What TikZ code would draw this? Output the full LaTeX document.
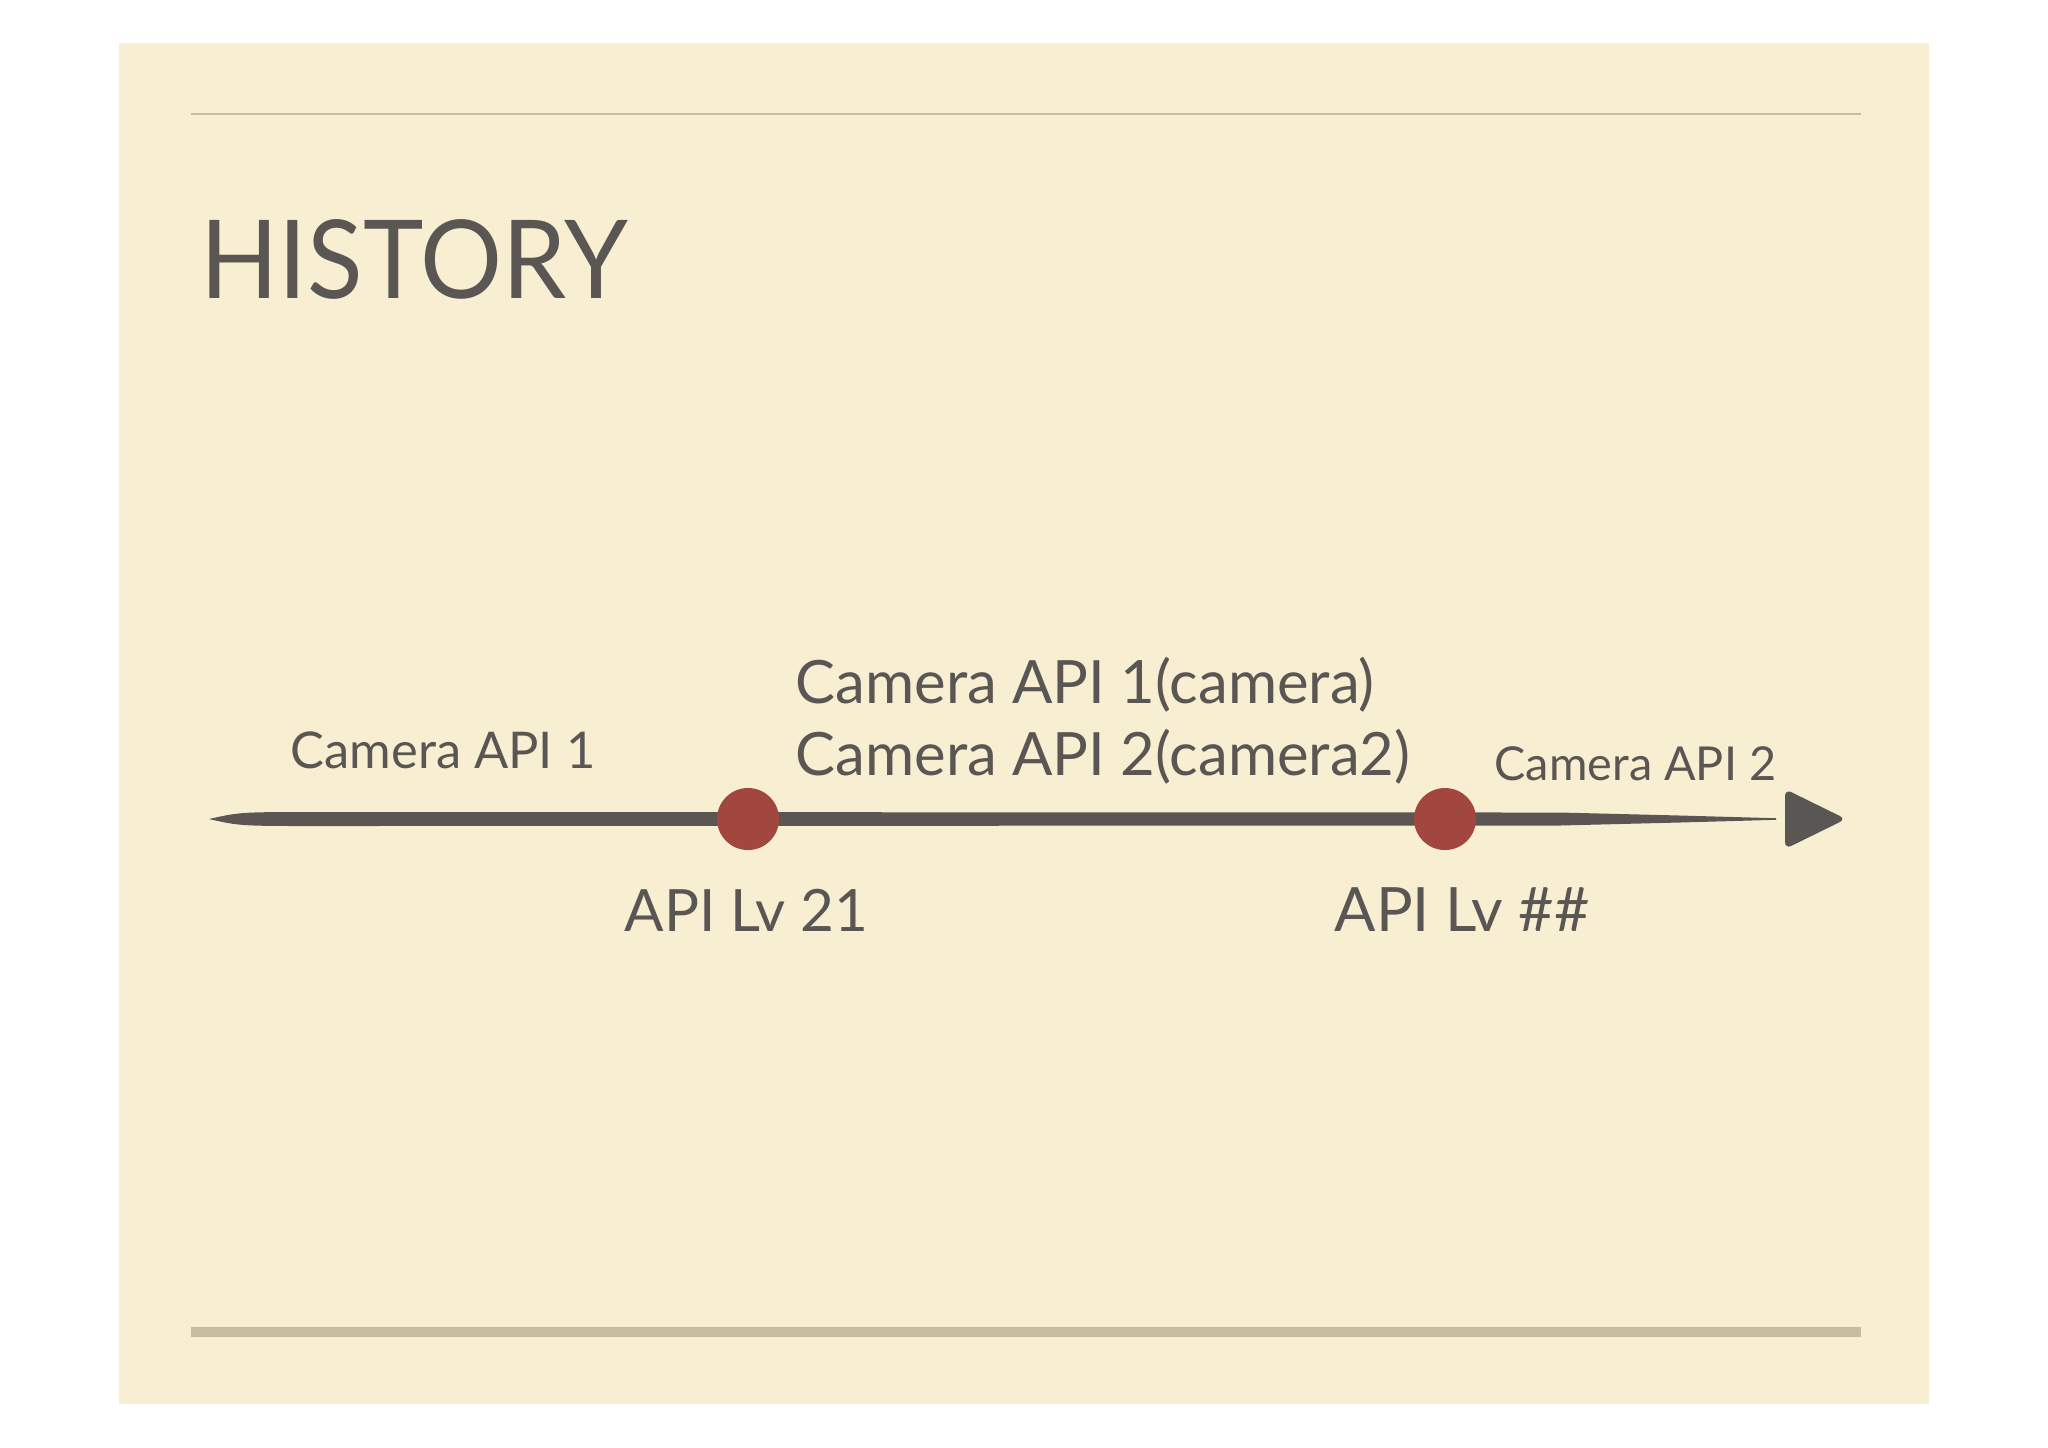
\documentclass[tikz,border=0pt]{standalone}
\usepackage{fontspec}
\setmainfont{Lato}
\usetikzlibrary{calc}

\definecolor{paper}{HTML}{F8EFD3}
\definecolor{ink}{HTML}{5A5654}
\definecolor{rule}{HTML}{C6BD9F}
\definecolor{dotred}{HTML}{A2473F}

\tikzset{
  label/.style={text=ink, inner sep=0pt, anchor=base west},
  dot/.style={circle, fill=dotred, minimum size=0.62cm, inner sep=0pt},
}

\begin{document}
\begin{tikzpicture}[x=0.01cm, y=-0.01cm]
    % page and slide
    \useasboundingbox (0,0) rectangle (2048,1447);
    \fill[white] (0,0) rectangle (2048,1447);
    \fill[paper] (119,43) rectangle (1929,1404);

    % rules
    \draw[rule, line width=0.5pt] (191,114) -- (1861,114);
    \draw[rule, line width=3pt] (191,1332) -- (1861,1332);

    % title
    \node[label, font=\fontsize{31}{31}\selectfont, xscale=0.94] (title) at (200,298) {HISTORY};

    % timeline
    \coordinate (tstart) at (209,819);
    \coordinate (tend) at (1776,819);
    \fill[ink] (tstart) .. controls (240,812) .. (320,812) -- (1560,812.5)
        -- (1680,815.5) -- ($(tend)+(0,-0.8)$) -- ($(tend)+(0,0.8)$)
        -- (1680,822.5) -- (1560,825.5) -- (320,826)
        .. controls (240,826) .. (tstart) -- cycle;
    \fill[ink, rounded corners=2pt] (1785,789) -- (1846,819) -- (1785,849) -- cycle;

    % milestones
    \node[dot] (lv21) at (748,819) {};
    \node[dot] (lvnext) at (1445,819) {};

    % labels
    \node[label, font=\fontsize{14.4}{14.4}\selectfont] (api1) at (290,768) {Camera API 1};
    \node[label, font=\fontsize{17}{17}\selectfont] (both1) at (795,703) {Camera API 1(camera)};
    \node[label, font=\fontsize{17}{17}\selectfont] (both2) at (795,775) {Camera API 2(camera2)};
    \node[label, font=\fontsize{13.3}{13.3}\selectfont] (api2) at (1494,780) {Camera API 2};
    \node[label, font=\fontsize{16.6}{16.6}\selectfont] (lv21txt) at (624,931) {API Lv 21};
    \node[label, font=\fontsize{17.4}{17.4}\selectfont] (lvnexttxt) at (1334,931) {API Lv \#\#};
\end{tikzpicture}
\end{document}
